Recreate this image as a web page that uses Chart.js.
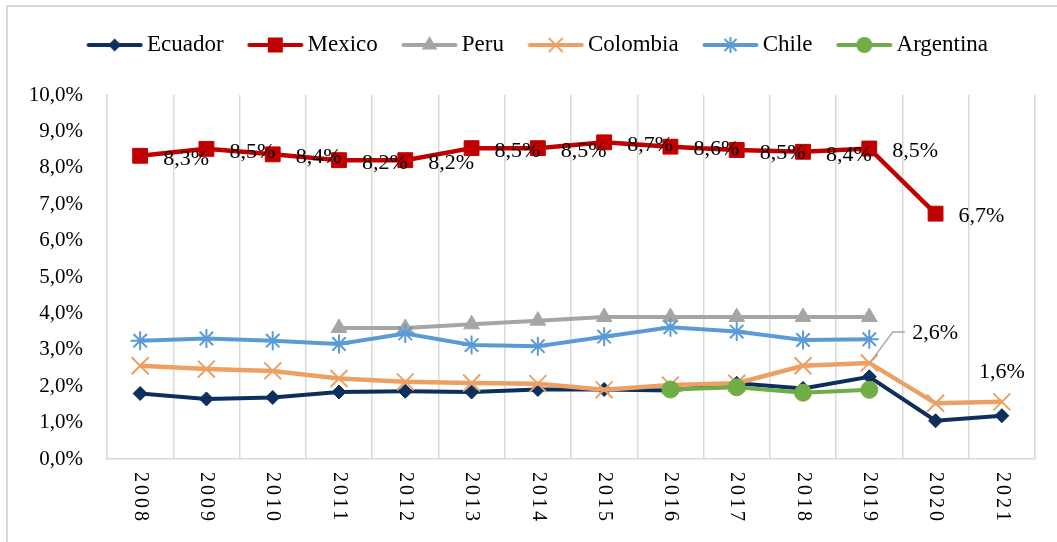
<!DOCTYPE html>
<html>
<head>
<meta charset="utf-8">
<script src="https://cdn.jsdelivr.net/npm/chart.js@4.4.1/dist/chart.umd.min.js"></script>
<style>
  html, body { margin: 0; padding: 0; background: #fff; }
  canvas { display: block; }
</style>
</head>
<body>
<canvas id="chart" width="1057" height="542"></canvas>
<script>
// Categories (years) and yearly shares per country, in percent
const years = ['2008', '2009', '2010', '2011', '2012', '2013', '2014', '2015', '2016', '2017', '2018', '2019', '2020', '2021'];
const ecuador   = [1.80, 1.65, 1.69, 1.84, 1.86, 1.84, 1.91, 1.91, 1.88, 2.08, 1.94, 2.26, 1.05, 1.19];
const mexico    = [8.33, 8.52, 8.37, 8.21, 8.21, 8.54, 8.54, 8.70, 8.58, 8.49, 8.44, 8.53, 6.74, null];
const peru      = [null, null, null, 3.60, 3.60, 3.70, 3.80, 3.90, 3.90, 3.90, 3.90, 3.90, null, null];
const colombia  = [2.56, 2.47, 2.42, 2.21, 2.12, 2.09, 2.07, 1.90, 2.03, 2.08, 2.56, 2.64, 1.53, 1.57];
const chile     = [3.25, 3.31, 3.25, 3.16, 3.45, 3.13, 3.10, 3.36, 3.62, 3.50, 3.27, 3.29, null, null];
const argentina = [null, null, null, null, null, null, null, null, 1.91, 1.97, 1.82, 1.90, null, null];
const yTicks    = [0, 1, 2, 3, 4, 5, 6, 7, 8, 9, 10];

const SERIF = "'Liberation Serif', 'Times New Roman', serif";
const GRID = '#d9d9d9';

function pct(v) { return v.toFixed(1).replace('.', ',') + '%'; }

// Series appearance
const series = [
  { label: 'Ecuador',   data: ecuador,   color: '#0c2f5e', style: 'rectRot',  r: 7,    pbw: 1, lw: 4 },
  { label: 'Mexico',    data: mexico,    color: '#c00000', style: 'rect',     r: 10.5, pbw: 1, lw: 4.5 },
  { label: 'Peru',      data: peru,      color: '#a5a5a5', style: 'triangle', r: 9,    pbw: 1, lw: 4 },
  { label: 'Colombia',  data: colombia,  color: '#eda064', style: 'crossRot', r: 12,   pbw: 2, lw: 4.5 },
  { label: 'Chile',     data: chile,     color: '#5b9bd5', style: 'star',     r: 9.5,  pbw: 2, lw: 4 },
  { label: 'Argentina', data: argentina, color: '#70ad47', style: 'circle',   r: 8.5,  pbw: 1, lw: 4 }
];

// Legend swatch: a line segment with the series marker in its middle
function legendIcon(color, shape) {
  const c = document.createElement('canvas');
  c.width = 78; c.height = 24;
  const g = c.getContext('2d');
  const cx = 49.5, cy = 12;
  g.strokeStyle = color; g.fillStyle = color;
  g.lineWidth = 4; g.lineCap = 'round';
  g.beginPath(); g.moveTo(23.5, cy); g.lineTo(75.5, cy); g.stroke();
  g.lineCap = 'butt'; g.lineWidth = 2;
  g.beginPath();
  if (shape === 'rectRot') {
    const r = 6.5;
    g.moveTo(cx - r, cy); g.lineTo(cx, cy - r); g.lineTo(cx + r, cy); g.lineTo(cx, cy + r); g.closePath(); g.fill();
  } else if (shape === 'rect') {
    g.rect(cx - 7.5, cy - 7.5, 15, 15); g.fill();
  } else if (shape === 'triangle') {
    const r = 9;
    g.moveTo(cx, cy - r); g.lineTo(cx + r * 0.866, cy + r / 2); g.lineTo(cx - r * 0.866, cy + r / 2); g.closePath(); g.fill();
  } else if (shape === 'crossRot') {
    const d = 7;
    g.moveTo(cx - d, cy - d); g.lineTo(cx + d, cy + d); g.moveTo(cx - d, cy + d); g.lineTo(cx + d, cy - d); g.stroke();
  } else if (shape === 'star') {
    const r = 8, d = 6;
    g.moveTo(cx, cy - r); g.lineTo(cx, cy + r);
    g.moveTo(cx - d, cy - d); g.lineTo(cx + d, cy + d); g.moveTo(cx - d, cy + d); g.lineTo(cx + d, cy - d); g.stroke();
  } else {
    g.arc(cx, cy, 8, 0, Math.PI * 2); g.fill();
  }
  return c;
}
const icons = series.map(s => legendIcon(s.color, s.style));

// White page with a light frame around the chart
const frame = {
  id: 'frame',
  beforeDraw(chart) {
    const ctx = chart.ctx;
    ctx.save();
    ctx.fillStyle = '#fff';
    ctx.fillRect(0, 0, chart.width, chart.height);
    ctx.strokeStyle = GRID; ctx.lineWidth = 2;
    ctx.strokeRect(7, 6, chart.width + 20, chart.height + 20);
    ctx.restore();
  }
};

// Extra room between the legend and the plot area, and a small nudge of the legend row
const legendPlace = {
  id: 'legendPlace',
  afterInit(chart) {
    const lg = chart.legend;
    if (!lg) return;
    const fit = lg.fit;
    lg.fit = function () { fit.call(this); this.height += 28.5; };
  },
  afterLayout(chart) {
    const lg = chart.legend;
    if (!lg) return;
    lg.left += 3; lg.right += 3;
  }
};

// Year labels, rotated to read top-to-bottom
const yearLabels = {
  id: 'yearLabels',
  afterDraw(chart) {
    const ctx = chart.ctx, xs = chart.scales.x, area = chart.chartArea;
    ctx.save();
    ctx.font = '20px ' + SERIF;
    ctx.fillStyle = '#000';
    ctx.textAlign = 'left';
    ctx.textBaseline = 'middle';
    if ('letterSpacing' in ctx) ctx.letterSpacing = '3px';
    years.forEach((y, i) => {
      ctx.save();
      ctx.translate(xs.getPixelForValue(i), area.bottom + 13);
      ctx.rotate(Math.PI / 2);
      ctx.fillText(y, 0, 0);
      ctx.restore();
    });
    ctx.restore();
  }
};

// Value labels: every Mexico point, plus two Colombia points
const valueLabels = {
  id: 'valueLabels',
  afterDatasetsDraw(chart) {
    const ctx = chart.ctx;
    ctx.save();
    ctx.font = '22px ' + SERIF;
    ctx.fillStyle = '#000';
    ctx.textBaseline = 'middle';
    ctx.textAlign = 'left';
    const mx = chart.getDatasetMeta(1);
    mx.data.forEach((pt, i) => {
      if (mexico[i] == null) return;
      ctx.fillText(pct(mexico[i]), pt.x + 23, pt.y + 3);
    });
    const co = chart.getDatasetMeta(3);
    const p19 = co.data[11];
    ctx.strokeStyle = '#a6a6a6'; ctx.lineWidth = 1.5;
    ctx.beginPath();
    ctx.moveTo(p19.x + 2, p19.y - 2);
    ctx.lineTo(p19.x + 23.5, p19.y - 31);
    ctx.lineTo(p19.x + 35.5, p19.y - 31);
    ctx.stroke();
    ctx.fillText(pct(colombia[11]), p19.x + 43, p19.y - 30);
    const p21 = co.data[13];
    ctx.textAlign = 'center';
    ctx.fillText(pct(colombia[13]), p21.x, p21.y - 30);
    ctx.restore();
  }
};

new Chart(document.getElementById('chart'), {
  type: 'line',
  data: {
    labels: years,
    datasets: series.map((s, i) => ({
      label: s.label,
      data: s.data,
      order: series.length - i,
      borderColor: s.color,
      backgroundColor: s.color,
      borderWidth: s.lw,
      tension: 0,
      spanGaps: false,
      pointStyle: s.style,
      pointRadius: s.r,
      pointHoverRadius: s.r,
      pointBorderWidth: s.pbw,
      pointBackgroundColor: s.color,
      pointBorderColor: s.color
    }))
  },
  options: {
    responsive: false,
    animation: false,
    events: [],
    layout: { padding: { top: 23.5, left: 20, right: 22, bottom: 83 } },
    scales: {
      x: {
        type: 'category',
        offset: true,
        grid: { display: true, offset: true, color: GRID, lineWidth: 1.5, drawTicks: false },
        border: { display: true, color: GRID, width: 1.5 },
        ticks: { display: false }
      },
      y: {
        min: 0,
        max: 10,
        afterFit(scale) { scale.width = 87; },
        afterBuildTicks(scale) { scale.ticks = yTicks.map(v => ({ value: v })); },
        grid: { display: false, drawTicks: false },
        border: { display: true, color: GRID, width: 1.5 },
        ticks: {
          padding: 24,
          color: '#000',
          font: { family: SERIF, size: 21 },
          callback: v => pct(v)
        }
      }
    },
    plugins: {
      tooltip: { enabled: false },
      legend: {
        position: 'top',
        align: 'center',
        labels: {
          usePointStyle: true,
          pointStyleWidth: 62.5,
          padding: 10,
          color: '#000',
          font: { family: SERIF, size: 23 },
          sort: (a, b) => a.datasetIndex - b.datasetIndex,
          generateLabels(chart) {
            const items = Chart.defaults.plugins.legend.labels.generateLabels(chart);
            items.forEach(it => { it.pointStyle = icons[it.datasetIndex]; });
            return items;
          }
        }
      }
    }
  },
  plugins: [frame, legendPlace, valueLabels, yearLabels]
});
</script>
</body>
</html>
